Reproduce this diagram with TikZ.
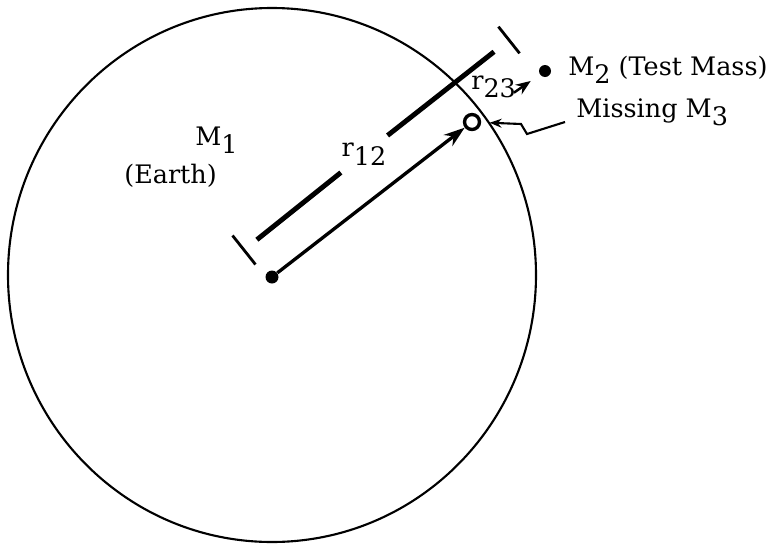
\documentclass[tikz,border=0pt]{standalone}
\usepackage{fontspec}
\setmainfont{DejaVu Serif}
\usetikzlibrary{arrows.meta,calc}
\tikzset{
    lbl/.style={font=\fontsize{14.5}{16}\selectfont, inner sep=0pt, anchor=base west},
    dimline/.style={line width=2.8pt},
    tickline/.style={line width=1.6pt},
    vecline/.style={line width=1.9pt, -{Stealth[length=4.2mm, width=2.8mm]}},
    leader/.style={line width=1.2pt, -{Stealth[length=2.4mm, width=1.8mm]}},
    dot/.style={circle, fill, inner sep=0pt, minimum size=#1}
}
\newcommand{\lowsub}[1]{\raisebox{-5pt}{#1}}

\begin{document}
\begin{tikzpicture}[x=0.02cm, y=-0.02cm]
    \useasboundingbox (0,0) rectangle (775,545);
    % Earth
    \coordinate (o) at (272,275);
    \draw[line width=1.2pt] (o) circle[x radius=264, y radius=267];
    \node[dot=0.26cm] (m1) at (272,277) {};
    \node[lbl] (lm1) at (195,145) {M\lowsub{1}};
    \node[lbl] (learth) at (124,183) {(Earth)};
    % masses
    \node[draw, circle, line width=1.9pt, minimum size=0.3cm, inner sep=0pt] (m3) at (472,122) {};
    \node[dot=0.24cm] (m2) at (545,71) {};
    \node[lbl] (lm2) at (568,75) {M\lowsub{2} (Test Mass)};
    \node[lbl] (lmiss) at (576,117) {Missing M\lowsub{3}};
    % vectors
    \draw[vecline] (m1) -- (m3);
    \draw[line width=1.4pt, -{Stealth[length=3mm, width=2.3mm]},
          shorten <=0.84cm, shorten >=0.22cm] (m3) -- (m2);
    \node[lbl] (r23) at (471,89) {r\lowsub{23}};
    % dimension line
    \coordinate (t1) at (244,250);
    \coordinate (t2) at (509,40);
    \node[font=\fontsize{14.5}{16}\selectfont, inner sep=0.14cm] (r12) at (364,154) {r\lowsub{12}};
    \draw[dimline, shorten <=0.33cm] (t1) -- (r12);
    \draw[dimline, shorten >=0.38cm] (r12) -- (t2);
    \draw[tickline] ($(t1)!0.37cm!90:(t2)$) -- ($(t1)!0.37cm!-90:(t2)$);
    \draw[tickline] ($(t2)!0.34cm!90:(t1)$) -- ($(t2)!0.34cm!-90:(t1)$);
    % leader to M3
    \coordinate (lead) at (565,122);
    \draw[leader, shorten >=0.17cm] (lead) -- (527,134) -- (521,124) -- (m3);
\end{tikzpicture}
\end{document}
